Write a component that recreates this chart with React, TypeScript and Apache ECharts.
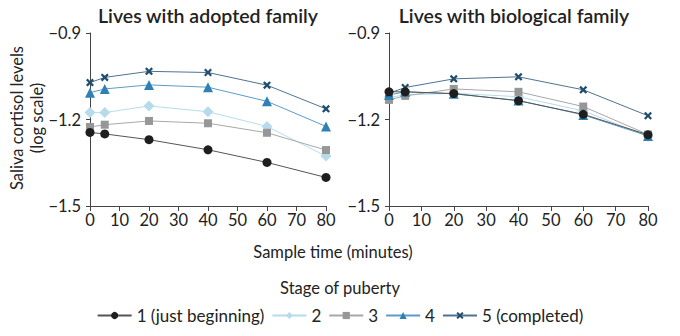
import React, { useEffect, useRef } from "react";
import * as echarts from "echarts";

const times = [0, 5, 20, 40, 60, 80];
const stageNames = ["1 (just beginning)", "2", "3", "4", "5 (completed)"];
const adopted1 = [-1.245, -1.25, -1.27, -1.305, -1.349, -1.401];
const adopted2 = [-1.176, -1.176, -1.153, -1.173, -1.224, -1.327];
const adopted3 = [-1.226, -1.218, -1.205, -1.213, -1.246, -1.306];
const adopted4 = [-1.107, -1.094, -1.08, -1.088, -1.137, -1.224];
const adopted5 = [-1.072, -1.054, -1.033, -1.037, -1.081, -1.163];
const bio1 = [-1.104, -1.104, -1.11, -1.135, -1.182, -1.253];
const bio2 = [-1.123, -1.115, -1.109, -1.121, -1.17, -1.258];
const bio3 = [-1.132, -1.118, -1.094, -1.104, -1.155, -1.252];
const bio4 = [-1.115, -1.104, -1.111, -1.134, -1.184, -1.257];
const bio5 = [-1.109, -1.089, -1.059, -1.052, -1.097, -1.187];
const yTicks = [-1.5, -1.2, -0.9];

const FONT = "Lato, 'Open Sans', sans-serif";
const XPATH = "path://M0,2 L2,0 L5,3 L8,0 L10,2 L7,5 L10,8 L8,10 L5,7 L2,10 L0,8 L3,5 Z";

const styles = [
  { marker: "#1e1e1e", line: "#555555", symbol: "circle", size: 9 },
  { marker: "#b6dcec", line: "#b6dcec", symbol: "diamond", size: 11 },
  { marker: "#979797", line: "#a8a8a8", symbol: "rect", size: 8 },
  { marker: "#2f80b4", line: "#5a9cc8", symbol: "triangle", size: 10 },
  { marker: "#1f4e6e", line: "#4f7390", symbol: XPATH, size: 8 },
];

const adopted = [adopted1, adopted2, adopted3, adopted4, adopted5];
const bio = [bio1, bio2, bio3, bio4, bio5];

export default function App() {
  const ref = useRef<HTMLDivElement>(null);
  useEffect(() => {
    if (!ref.current) return;
    const chart = echarts.init(ref.current, null, { renderer: "svg" });
    const mkX = (gi: number) => ({
      type: "value",
      gridIndex: gi,
      min: 0,
      max: 80,
      interval: 10,
      axisLine: { lineStyle: { color: "#444", width: 1 } },
      axisTick: { show: true, length: 5, lineStyle: { color: "#444" } },
      splitLine: { show: false },
      axisLabel: { fontSize: 16.5, color: "#222", fontFamily: FONT, margin: 5 },
    });
    const mkY = (gi: number) => ({
      type: "value",
      gridIndex: gi,
      min: -1.5,
      max: -0.9,
      interval: 0.3,
      axisLine: { show: true, lineStyle: { color: "#444", width: 1 } },
      axisTick: { show: true, length: 4, lineStyle: { color: "#444" } },
      splitLine: { show: false },
      axisLabel: {
        fontSize: 16.5,
        color: "#222",
        fontFamily: FONT,
        margin: 9,
        formatter: (v: number) => {
          const t = yTicks.find((y) => Math.abs(y - v) < 1e-6);
          return t === undefined ? "" : "\u2212" + Math.abs(t).toFixed(1);
        },
      },
    });
    const series: any[] = [];
    [adopted, bio].forEach((set, gi) => {
      set.forEach((vals, si) => {
        const s = styles[si];
        series.push({
          type: "line",
          name: stageNames[si],
          xAxisIndex: gi,
          yAxisIndex: gi,
          data: times.map((t, i) => [t, vals[i]]),
          symbol: s.symbol,
          symbolSize: s.size,
          showSymbol: true,
          itemStyle: { color: s.marker },
          lineStyle: { color: s.line, width: 1 },
          z: si === 0 ? 10 : 5 + si,
        });
      });
    });
    chart.setOption({
      animation: false,
      grid: [
        { left: 90, right: 354, top: 33, bottom: 130 },
        { left: 389, right: 32, top: 33, bottom: 130 },
      ],
      xAxis: [mkX(0), mkX(1)],
      yAxis: [mkY(0), mkY(1)],
      legend: {
        data: stageNames.map((n, i) => ({ name: n, itemStyle: { color: styles[i].marker } })),
        left: "center",
        top: 302,
        itemWidth: 34,
        itemHeight: 9,
        itemGap: 7,
        textStyle: { fontSize: 17, color: "#222", fontFamily: FONT, padding: [0, 0, 0, 0] },
      },
      graphic: [
        { type: "text", x: 208, y: 15, style: { text: "Lives with adopted family", font: "600 19.5px " + FONT, fill: "#222", textAlign: "center", textVerticalAlign: "middle" } },
        { type: "text", x: 514, y: 15, style: { text: "Lives with biological family", font: "600 19.5px " + FONT, fill: "#222", textAlign: "center", textVerticalAlign: "middle" } },
        { type: "text", x: 27, y: 118, rotation: Math.PI / 2, style: { text: "Saliva cortisol levels\n(log scale)", font: "16.5px " + FONT, fill: "#222", textAlign: "center", textVerticalAlign: "middle", lineHeight: 20 } },
        { type: "text", x: 333, y: 252, style: { text: "Sample time (minutes)", font: "16.5px " + FONT, fill: "#222", textAlign: "center", textVerticalAlign: "middle" } },
        { type: "text", x: 340, y: 288, style: { text: "Stage of puberty", font: "16.5px " + FONT, fill: "#222", textAlign: "center", textVerticalAlign: "middle" } },
      ],
      series,
    });
    return () => chart.dispose();
  }, []);
  return <div ref={ref} style={{ width: 680, height: 336, position: "absolute", left: 0, top: 0 }} />;
}
